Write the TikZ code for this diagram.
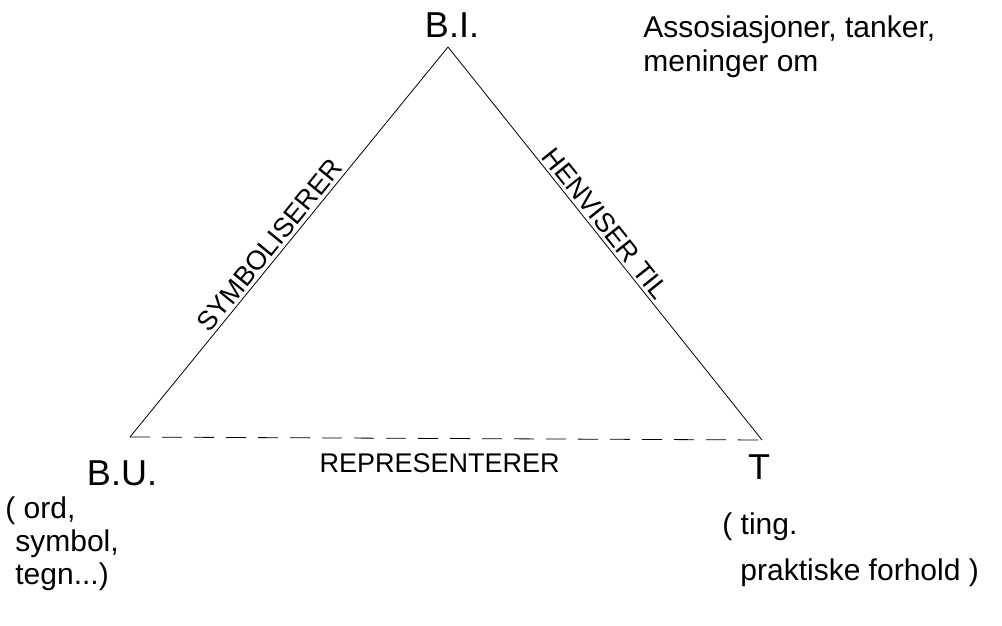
\documentclass[tikz,border=0pt]{standalone}
\usepackage{fontspec}
\setmainfont{Liberation Sans}
\usetikzlibrary{positioning}

\begin{document}
\begin{tikzpicture}[
		x=0.5pt, y=-0.5pt,
		thin,
		corner/.style={font=\fontsize{18}{20}\selectfont, inner sep=0pt},
		relation/.style={font=\fontsize{13.5}{15}\selectfont, inner sep=1.5pt},
		note/.style={font=\fontsize{15}{17}\selectfont, align=left, inner sep=0pt, anchor=north west}]
	
	\useasboundingbox (0,0) rectangle (1002,626);
	
	% triangle corners
	\coordinate (bi) at (448,47);
	\coordinate (bu) at (130,437);
	\coordinate (t) at (762,440);
	
	\node[corner] (bi_label) at (452,25) {B.I.};
	\node[corner] (bu_label) at (122,473) {B.U.};
	\node[corner] (t_label) at (759,467) {T};
	
	\draw	(bu) -- node[relation, sloped, above, pos=0.47] {SYMBOLISERER} (bi)
			(bi) -- node[relation, sloped, above, pos=0.47] {HENVISER TIL} (t);
	\draw[dash pattern=on 10pt off 6pt] (bu) -- node[relation, below=6pt, pos=0.49] {REPRESENTERER} (t);
	
	\node[note] (bi_note) at (643,15) {Assosiasjoner, tanker,\\meninger om};
	\node[note, font=\fontsize{15}{16.5}\selectfont] (bu_note) at (5,496) {( ord,\\\hspace*{5pt}symbol,\\\hspace*{5pt}tegn...)};
	\node[note, font=\fontsize{15}{23}\selectfont] (t_note) at (722,512) {( ting.\\\hspace*{9pt}praktiske forhold )};
	
\end{tikzpicture}
\end{document}
